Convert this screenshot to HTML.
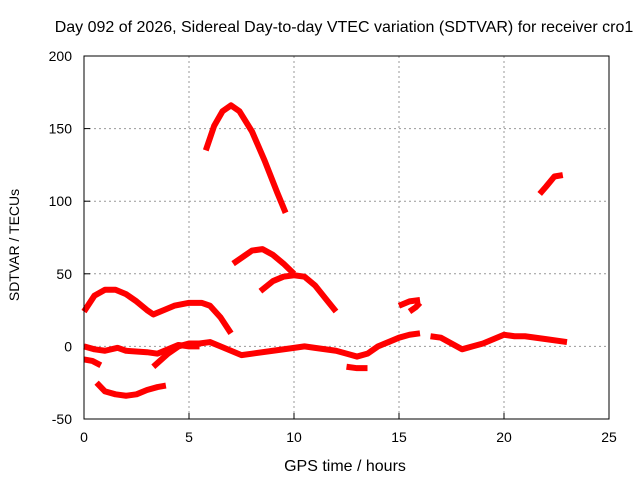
<!DOCTYPE html>
<html><head><meta charset="utf-8"><style>
body{margin:0;background:#fff}
svg{display:block;font-family:"Liberation Sans",sans-serif}
</style></head><body>
<svg id="chart" width="640" height="480">
<text x="344" y="32" font-size="16" text-anchor="middle">Day 092 of 2026, Sidereal Day-to-day VTEC variation (SDTVAR) for receiver cro1</text>
<text x="345" y="471" font-size="16" text-anchor="middle">GPS time / hours</text>
<text transform="translate(19,245) rotate(-90)" font-size="14" text-anchor="middle">SDTVAR / TECUs</text>
<g id="grid"></g><g id="marks"></g>
<rect x="84" y="56" width="525" height="363" fill="none" stroke="#000"/>
</svg>
<script>
const xTicks=[0,5,10,15,20,25];
const yTicks=[-50,0,50,100,150,200];
const seriesHumpA=[[0,24],[0.5,35],[1,39],[1.5,39],[2,36],[2.5,31],[3,25],[3.3,22],[3.8,25],[4.3,28],[5,30],[5.6,30],[6,28],[6.5,20],[7,9]];
const seriesBig=[[5.8,135],[6.2,152],[6.6,162],[7,166],[7.4,162],[8,148],[8.6,128],[9.2,106],[9.6,92]];
const seriesC=[[7.1,57],[7.6,62],[8,66],[8.5,67],[9,63],[9.5,57],[10,50]];
const seriesD=[[8.4,38],[9,45],[9.5,48],[10,49],[10.5,48],[11,42],[11.5,33],[12,24]];
const seriesE1=[[15,28],[15.5,31],[16,32]];
const seriesE2=[[15.5,24],[15.8,27],[16,30]];
const seriesF=[[21.7,105],[22,110],[22.4,117],[22.8,118]];
const seriesLow=[[0.6,-25],[1,-31],[1.5,-33],[2,-34],[2.5,-33],[3,-30],[3.5,-28],[3.9,-27]];
const seriesSmall=[[0,-9],[0.4,-10],[0.8,-13]];
const seriesZero1=[[0,0],[0.5,-2],[1,-3],[1.6,-1],[2,-3],[3,-4],[3.5,-5],[4,-2],[4.5,1],[5,0],[5.5,0]];
const seriesZero2=[[3.3,-14],[4,-5],[4.5,0],[5,2],[5.5,2],[6,3],[6.5,0],[7,-3],[7.5,-6],[8,-5],[9,-3],[10,-1],[10.5,0],[11,-1],[12,-3],[12.5,-5],[13,-7],[13.5,-5],[14,0],[14.5,3],[15,6],[15.5,8],[16,9]];
const seriesZero3=[[16.5,7],[17,6],[17.5,2],[18,-2],[18.5,0],[19,2],[19.5,5],[20,8],[20.5,7],[21,7],[22,5],[23,3]];
const seriesZero4=[[12.5,-14],[13,-15],[13.5,-15]];
const allSeries=[seriesHumpA,seriesBig,seriesC,seriesD,seriesE1,seriesE2,seriesF,seriesLow,seriesSmall,seriesZero1,seriesZero2,seriesZero3,seriesZero4];
const X=h=>84+h*21, Y=v=>419-(v+50)*363/250;
const NS="http://www.w3.org/2000/svg";
const grid=document.getElementById('grid'), marks=document.getElementById('marks');
function mk(t,a,p){const e=document.createElementNS(NS,t);for(const k in a)e.setAttribute(k,a[k]);p.appendChild(e);return e;}
xTicks.forEach(t=>{
 if(t>0&&t<25){const l=mk('line',{x1:X(t),x2:X(t),y1:56,y2:419,stroke:'#999','stroke-dasharray':'2,3'},grid);
 
 }
 const tk=mk('line',{x1:X(t),x2:X(t),y1:419,y2:413,stroke:'#000'},grid);
 
 
 const tx=mk('text',{x:X(t),y:442,'font-size':14,'text-anchor':'middle'},grid);tx.textContent=t;
 
 
});
yTicks.forEach(t=>{
 if(t>-50&&t<200){const l=mk('line',{x1:84,x2:609,y1:Y(t),y2:Y(t),stroke:'#999','stroke-dasharray':'2,3'},grid);
 
 }
 const tk=mk('line',{x1:84,x2:90,y1:Y(t),y2:Y(t),stroke:'#000'},grid);
 
 
 const tx=mk('text',{x:72,y:Y(t)+5,'font-size':14,'text-anchor':'end'},grid);tx.textContent=t;
 
 
});
allSeries.forEach(s=>{
 const p=mk('polyline',{points:s.map(d=>X(d[0])+','+Y(d[1])).join(' '),fill:'none',stroke:'#f00','stroke-width':6,'stroke-linejoin':'round'},marks);
 
 
});
</script>
</body></html>
